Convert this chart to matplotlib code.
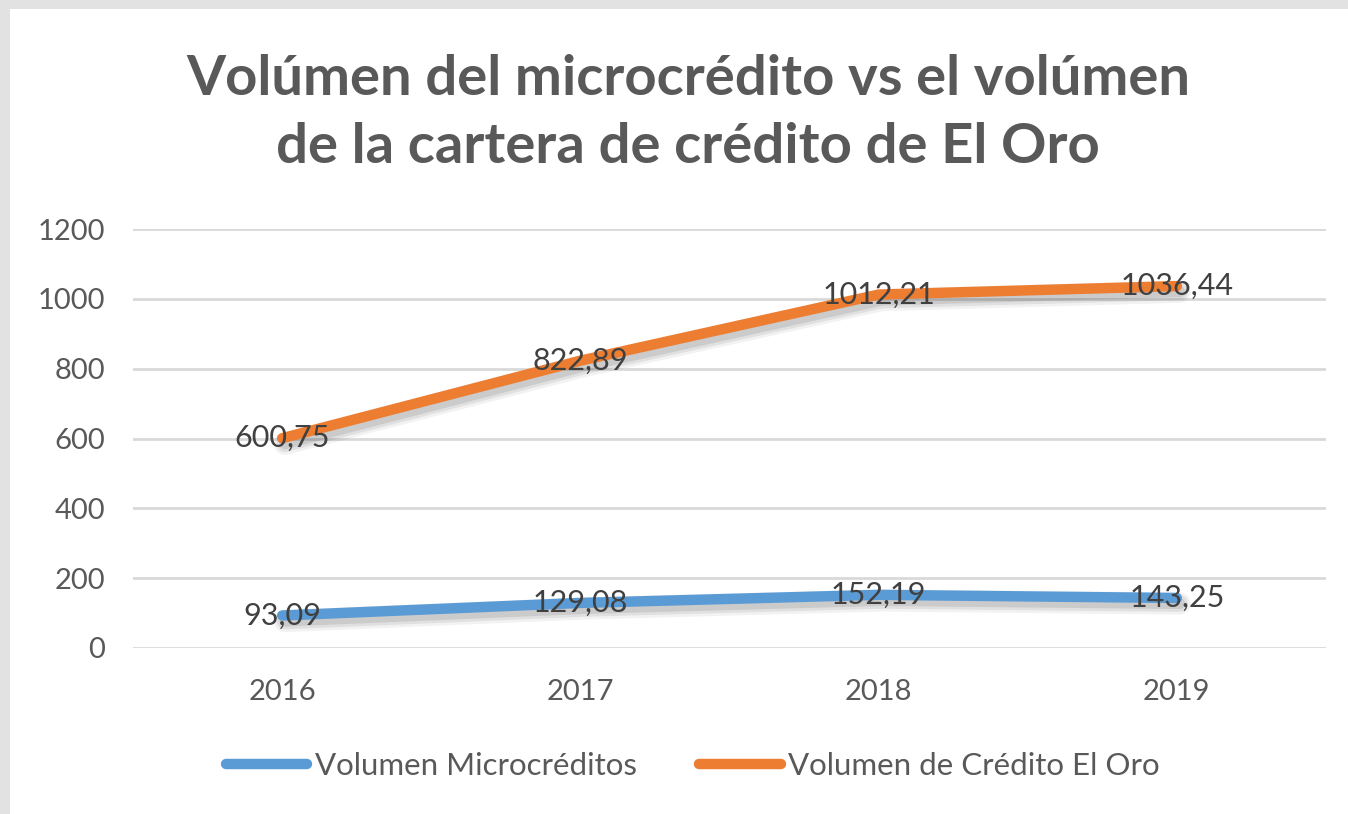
import matplotlib.pyplot as plt
import matplotlib.patheffects as pe
from matplotlib.patches import Rectangle
from matplotlib.lines import Line2D

plt.rcParams['font.family'] = ['Lato', 'DejaVu Sans']

# datos
years = ['2016', '2017', '2018', '2019']
micro = [93.09, 129.08, 152.19, 143.25]
cartera = [600.75, 822.89, 1012.21, 1036.44]
yticks = [0, 200, 400, 600, 800, 1000, 1200]
labels = ['Volumen Microcréditos', 'Volumen de Crédito El Oro']

blue = '#5B9BD5'
orange = '#ED7D31'
text_col = '#595959'

fig = plt.figure(figsize=(13.48, 8.14), dpi=100, facecolor='#e2e2e2')
# panel blanco (captura de pantalla con borde gris arriba/izquierda)
fig.patches.append(Rectangle((10 / 1348, 0), 1, 1 - 9 / 814, transform=fig.transFigure,
                             facecolor='white', edgecolor='none', zorder=-10))

ax = fig.add_axes([133 / 1348, 166 / 814, (1326 - 133) / 1348, (648 - 229) / 814])
ax.set_facecolor('none')

# sombra difusa tipo Excel
shadow = [pe.SimpleLineShadow(offset=(2, -4), shadow_color='black', alpha=0.05, linewidth=16),
          pe.SimpleLineShadow(offset=(2, -4), shadow_color='black', alpha=0.07, linewidth=12),
          pe.SimpleLineShadow(offset=(2, -4), shadow_color='black', alpha=0.09, linewidth=8),
          pe.Normal()]

x = list(range(len(years)))
ax.plot(x, micro, color=blue, lw=7.5, solid_capstyle='round', path_effects=shadow, zorder=3)
ax.plot(x, cartera, color=orange, lw=7.5, solid_capstyle='round', path_effects=shadow, zorder=3)

for serie in (micro, cartera):
    for xi, v in zip(x, serie):
        ax.text(xi, v, f'{v:.2f}'.replace('.', ','), ha='center', va='center',
                fontsize=22, color='#404040', zorder=5)

ax.set_xlim(-0.5, 3.5)
ax.set_ylim(0, 1200)
ax.set_yticks(yticks)
ax.set_xticks(x)
ax.set_xticklabels(years)
ax.grid(axis='y', color='#d9d9d9', lw=2)
ax.set_axisbelow(True)
for s in ax.spines.values():
    s.set_visible(False)
ax.tick_params(axis='y', length=0, pad=20, labelsize=21, labelcolor=text_col)
ax.tick_params(axis='x', length=0, pad=22, labelsize=21, labelcolor=text_col)

fig.text(688 / 1348, 1 - 113 / 814,
         'Volúmen del microcrédito vs el volúmen\nde la cartera de crédito de El Oro',
         ha='center', va='center', fontsize=40.5, fontweight='bold', color=text_col,
         linespacing=1.45)

handles = [Line2D([], [], color=blue, lw=7.5, solid_capstyle='round'),
           Line2D([], [], color=orange, lw=7.5, solid_capstyle='round')]
fig.legend(handles, labels, loc='center', bbox_to_anchor=(693 / 1348, 48 / 814), ncol=2,
           frameon=False, fontsize=22.5, labelcolor=text_col, handlelength=2.6,
           handletextpad=0.25, columnspacing=2.0)

plt.savefig('out.png', dpi=100, facecolor=fig.get_facecolor())
